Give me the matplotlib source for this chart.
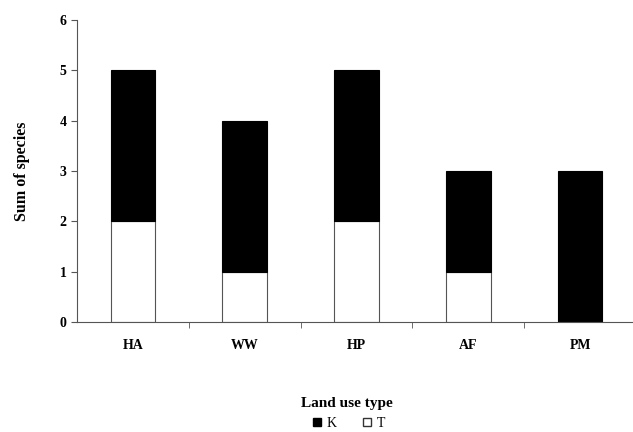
import matplotlib
matplotlib.use('Agg')
import matplotlib.pyplot as plt
from matplotlib.lines import Line2D

plt.rcParams['font.family'] = ['Liberation Serif', 'DejaVu Serif']
plt.rcParams['font.weight'] = 'bold'

categories = ['HA', 'WW', 'HP', 'AF', 'PM']
t_values = [2, 1, 2, 1, 0]
k_values = [3, 3, 3, 2, 3]

fig = plt.figure(figsize=(6.33, 4.32), dpi=100)
ax = fig.add_axes([77 / 633, 110 / 432, 559 / 633, 302 / 432])

x = list(range(len(categories)))
ax.bar(x, t_values, width=0.4, color='white', edgecolor='#555555', linewidth=0.8)
ax.bar(x, k_values, width=0.4, bottom=t_values, color='black', edgecolor='black', linewidth=0.8)

ax.set_xlim(-0.5, 4.5)
ax.set_ylim(0, 6)
ax.set_yticks(range(7))
ax.set_xticks(x)
ax.set_xticklabels(categories, fontsize=10, fontweight='bold')
ax.set_xticks([0.5, 1.5, 2.5, 3.5], minor=True)
ax.tick_params(axis='x', which='major', length=0, pad=12)
ax.tick_params(axis='x', which='minor', length=4, color='#555555', direction='out')
ax.tick_params(axis='y', length=4, color='#555555', direction='out', labelsize=10)
for lab in ax.get_yticklabels():
    lab.set_fontweight('bold')

for side in ['top', 'right']:
    ax.spines[side].set_visible(False)
for side in ['left', 'bottom']:
    ax.spines[side].set_color('#555555')
    ax.spines[side].set_linewidth(0.8)

ax.set_ylabel('Sum of species', fontsize=11.5, fontweight='bold', labelpad=21)

handles = [
    Line2D([], [], marker='s', linestyle='none', markerfacecolor='black',
           markeredgecolor='black', markersize=6),
    Line2D([], [], marker='s', linestyle='none', markerfacecolor='white',
           markeredgecolor='#333333', markersize=6),
]
leg = fig.legend(handles, ['K', 'T'], loc='lower center', bbox_to_anchor=(0.548, -0.025),
                 ncol=2, frameon=False, title='Land use type', handletextpad=0.1,
                 handlelength=1.2, columnspacing=1.6, fontsize=10, title_fontsize=11)
leg.get_title().set_fontweight('bold')
for txt in leg.get_texts():
    txt.set_fontweight('normal')

fig.savefig('out.png', dpi=100)
